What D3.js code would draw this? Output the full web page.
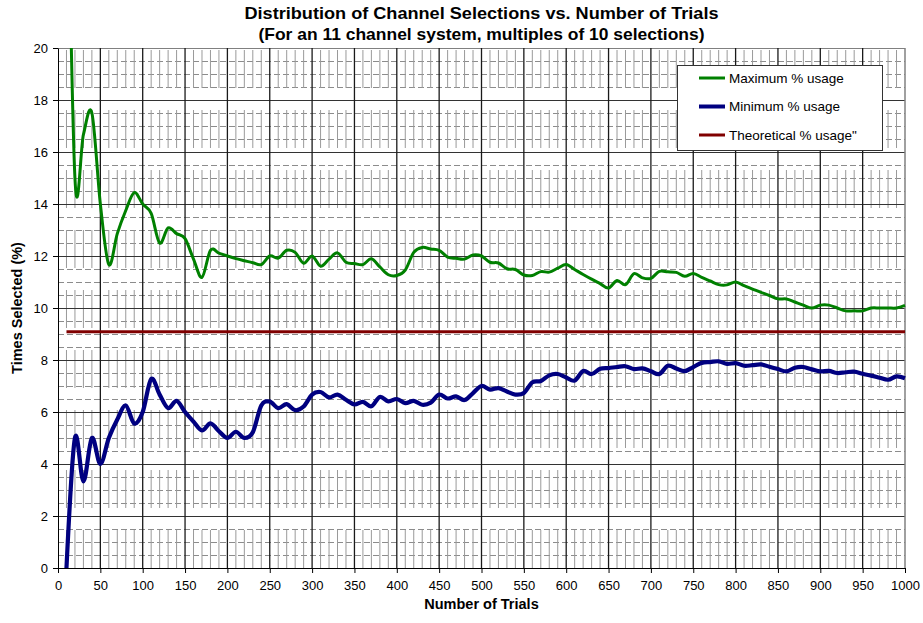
<!DOCTYPE html>
<html>
<head>
<meta charset="utf-8">
<script src="https://cdn.jsdelivr.net/npm/d3@7"></script>
<style>
  body { margin: 0; background: #fff; }
  text { font-family: "Liberation Sans", Arial, sans-serif; fill: #000; }
</style>
</head>
<body>
<div id="chart"></div>
<script>
// Number of trials (x) for each sample
const trials = d3.range(10, 1001, 10);

// Maximum % usage
const maxUsage = [
  30, 15, 16.67, 17.5, 14, 11.67, 12.86, 13.75, 14.44, 14,
  13.64, 12.5, 13.08, 12.86, 12.67, 11.88, 11.18, 12.22, 12.11, 12,
  11.9, 11.82, 11.74, 11.67, 12, 11.92, 12.22, 12.14, 11.72, 12,
  11.61, 11.88, 12.12, 11.76, 11.71, 11.67, 11.89, 11.58, 11.28, 11.25,
  11.46, 12.14, 12.33, 12.27, 12.22, 11.96, 11.91, 11.88, 12.04, 12,
  11.76, 11.73, 11.51, 11.48, 11.27, 11.25, 11.4, 11.38, 11.53, 11.67,
  11.48, 11.29, 11.11, 10.94, 10.77, 11.06, 10.9, 11.32, 11.16, 11.14,
  11.41, 11.39, 11.37, 11.22, 11.33, 11.18, 11.04, 10.9, 10.89, 11,
  10.86, 10.73, 10.6, 10.48, 10.35, 10.35, 10.23, 10.11, 10, 10.11,
  10.11, 10, 9.89, 9.89, 9.89, 10, 10, 10, 10, 10.1
];

// Minimum % usage
const minUsage = [
  0, 5, 3.33, 5, 4, 5, 5.71, 6.25, 5.56, 6,
  7.27, 6.67, 6.15, 6.43, 6, 5.63, 5.29, 5.56, 5.26, 5,
  5.24, 5, 5.22, 6.25, 6.4, 6.15, 6.3, 6.07, 6.21, 6.67,
  6.77, 6.56, 6.67, 6.47, 6.29, 6.39, 6.22, 6.58, 6.41, 6.5,
  6.34, 6.43, 6.28, 6.36, 6.67, 6.52, 6.6, 6.46, 6.73, 7,
  6.86, 6.92, 6.79, 6.67, 6.73, 7.14, 7.19, 7.41, 7.46, 7.33,
  7.21, 7.58, 7.46, 7.66, 7.69, 7.73, 7.76, 7.65, 7.68, 7.57,
  7.46, 7.78, 7.67, 7.57, 7.73, 7.89, 7.92, 7.95, 7.85, 7.88,
  7.78, 7.8, 7.83, 7.74, 7.65, 7.56, 7.7, 7.73, 7.64, 7.56,
  7.58, 7.5, 7.53, 7.55, 7.47, 7.4, 7.32, 7.24, 7.37, 7.3
];

// Theoretical % usage (11 channels)
const theoretical = trials.map(() => 9.09);

const seriesNames = ["Maximum % usage", "Minimum % usage", "Theoretical % usage\""];
const seriesColors = ["#008000", "#000080", "#800000"];
const seriesWidths = [3, 4.2, 3];

const xTicks = d3.range(0, 1001, 50);
const yTicks = d3.range(0, 21, 2);

const width = 923, height = 623;
const margin = { top: 48, right: 18, bottom: 55, left: 58 };
const w = width - margin.left - margin.right;
const h = height - margin.top - margin.bottom;

const svg = d3.select("#chart").append("svg")
  .attr("width", width)
  .attr("height", height);

const x = d3.scaleLinear().domain([0, 1000]).range([0, w]);
const y = d3.scaleLinear().domain([0, 20]).range([h, 0]);

const g = svg.append("g")
  .attr("transform", "translate(" + margin.left + "," + margin.top + ")");

// Gridlines: minor first, then major on top
const grid = g.append("g").attr("class", "grid");

grid.selectAll(".minor-y")
  .data(d3.range(0.5, 20, 0.5).filter(d => d % 2 !== 0))
  .enter().append("line")
  .attr("x1", 0).attr("x2", w)
  .attr("y1", d => Math.round(y(d)) + 0.5)
  .attr("y2", d => Math.round(y(d)) + 0.5)
  .attr("stroke", "#8c8c8c")
  .attr("stroke-dasharray", "6,3");

grid.selectAll(".minor-x")
  .data(d3.range(10, 1000, 10).filter(d => d % 50 !== 0))
  .enter().append("line")
  .attr("x1", d => x(d)).attr("x2", d => x(d))
  .attr("y1", 0).attr("y2", h)
  .attr("stroke", "#9a9a9a")
  .attr("stroke-dasharray", "38,22")
  .attr("stroke-dashoffset", -2);

grid.selectAll(".major-y")
  .data(yTicks.filter(d => d > 0))
  .enter().append("line")
  .attr("x1", 0).attr("x2", w)
  .attr("y1", d => Math.round(y(d)) + 0.5)
  .attr("y2", d => Math.round(y(d)) + 0.5)
  .attr("stroke", d => d === 20 ? "#808080" : "#333");

grid.selectAll(".major-x")
  .data(xTicks.filter(d => d > 0 && d < 1000))
  .enter().append("line")
  .attr("x1", d => x(d)).attr("x2", d => x(d))
  .attr("y1", 0).attr("y2", h)
  .attr("stroke", "#1a1a1a")
  .attr("stroke-width", 1.3);

// right border
g.append("line")
  .attr("x1", w).attr("x2", w)
  .attr("y1", 0).attr("y2", h)
  .attr("stroke", "#808080")
  .attr("stroke-width", 1.5);

// Axes
const xAxis = d3.axisBottom(x).tickValues(xTicks).tickFormat(d3.format("d"))
  .tickSize(5).tickSizeOuter(0);
const yAxis = d3.axisLeft(y).tickValues(yTicks).tickFormat(d3.format("d"))
  .tickSize(5).tickSizeOuter(0);

const gx = g.append("g")
  .attr("transform", "translate(0," + h + ")")
  .call(xAxis);
const gy = g.append("g").call(yAxis);

[gx, gy].forEach(a => {
  a.select(".domain").attr("stroke", "#000");
  a.selectAll(".tick line").attr("stroke", "#000");
  a.selectAll("text")
    .style("font-family", "'Liberation Sans', Arial, sans-serif")
    .style("font-size", "13px")
    .attr("fill", "#000");
});
gx.selectAll("text").attr("dy", "1.1em");
gy.selectAll("text").attr("x", -10);

// Series
g.append("clipPath")
  .attr("id", "plot-clip")
  .append("rect")
  .attr("x", -3).attr("y", 0)
  .attr("width", w + 6).attr("height", h + 3);

const line = d3.line()
  .x(d => x(d[0]))
  .y(d => y(d[1]))
  .curve(d3.curveCardinal.tension(0));

const plot = g.append("g").attr("clip-path", "url(#plot-clip)");

[maxUsage, minUsage, theoretical].forEach((vals, i) => {
  plot.append("path")
    .datum(trials.map((t, j) => [t, vals[j]]))
    .attr("d", line)
    .attr("fill", "none")
    .attr("stroke", seriesColors[i])
    .attr("stroke-width", seriesWidths[i])
    .attr("stroke-linejoin", "round");
});

// Legend
const legend = svg.append("g").attr("transform", "translate(677,65)");
legend.append("rect")
  .attr("x", 0.5).attr("y", 0.5)
  .attr("width", 205).attr("height", 85)
  .attr("fill", "#fff")
  .attr("stroke", "#333");

seriesNames.forEach((name, i) => {
  const ly = 13 + i * 28.5;
  legend.append("line")
    .attr("x1", 22).attr("x2", 48)
    .attr("y1", ly).attr("y2", ly)
    .attr("stroke", seriesColors[i])
    .attr("stroke-width", i === 1 ? 4 : 3);
  legend.append("text")
    .attr("x", 52).attr("y", ly)
    .attr("dy", "0.36em")
    .style("font-size", "13.5px")
    .text(name);
});

// Titles (condensed look: stretched to the reference widths)
const cx = margin.left + w / 2;
svg.append("text")
  .attr("x", cx).attr("y", 19)
  .attr("text-anchor", "middle")
  .attr("textLength", 474).attr("lengthAdjust", "spacingAndGlyphs")
  .style("font-weight", "bold")
  .style("font-size", "17px")
  .text("Distribution of Channel Selections vs. Number of Trials");
svg.append("text")
  .attr("x", cx).attr("y", 40)
  .attr("text-anchor", "middle")
  .attr("textLength", 446).attr("lengthAdjust", "spacingAndGlyphs")
  .style("font-weight", "bold")
  .style("font-size", "17px")
  .text("(For an 11 channel system, multiples of 10 selections)");

svg.append("text")
  .attr("x", cx)
  .attr("y", 609)
  .attr("text-anchor", "middle")
  .style("font-weight", "bold")
  .style("font-size", "14.5px")
  .text("Number of Trials");

svg.append("text")
  .attr("transform", "translate(22," + (margin.top + h / 2) + ") rotate(-90)")
  .attr("text-anchor", "middle")
  .style("font-weight", "bold")
  .style("font-size", "14.5px")
  .text("Times Selected (%)");
</script>
</body>
</html>
